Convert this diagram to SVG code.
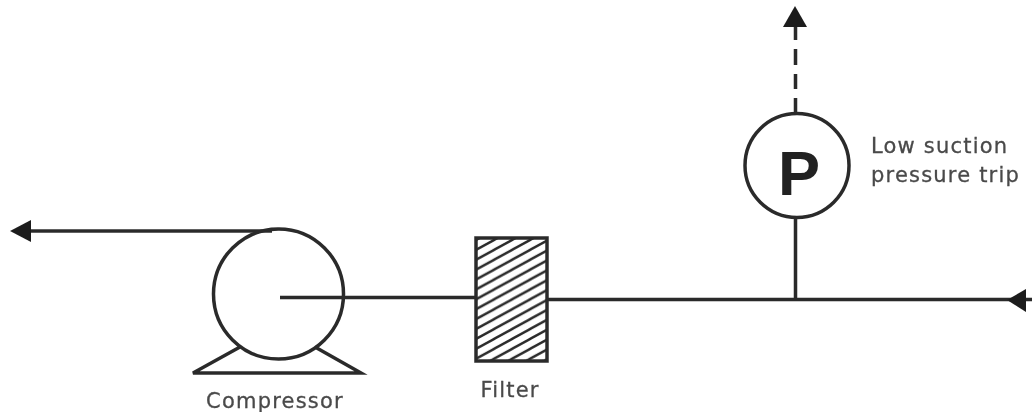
<svg xmlns="http://www.w3.org/2000/svg" width="1032" height="412" viewBox="0 0 1032 412">
<style>
.l{fill:none;stroke:#2b2b2b;stroke-width:3.5}
.a{fill:#1f1f1f;stroke:none}
text{font-family:"DejaVu Sans","Liberation Sans",sans-serif;fill:#4a4a4a}
.t{font-size:21px;letter-spacing:1.2px;stroke:#4a4a4a;stroke-width:0.3}
</style>
<defs>
<filter id="soft" x="0" y="0" width="100%" height="100%"><feGaussianBlur stdDeviation="0.7"/></filter>
<pattern id="hatch" patternUnits="userSpaceOnUse" width="18" height="9.900" patternTransform="translate(476 240)">
<path d="M-3 11.550L21 -1.650M-3 1.650L3 -1.650M15 11.550L21 8.250" stroke="#2b2b2b" stroke-width="2.400" fill="none"/>
</pattern>
</defs>
<rect width="1032" height="412" fill="#fff"/>
<g filter="url(#soft)">
<g id="connectors">
<path class="l" d="M28 231H272"/>
<path class="a" d="M10 231L31 220V242Z"/>
<path class="l" d="M280 297.500H476"/>
<path class="l" d="M547 299.500H1032"/>
<path class="a" d="M1007 300L1026 289V312Z"/>
<path class="l" d="M795.500 218V300"/>
<path class="l" d="M795.500 113V98M795.500 89V74M795.500 65V49M795.500 40V24"/>
<path class="a" d="M795 6L783 27H807Z"/>
</g>
<g id="compressor">
<path class="l" d="M240 347L193 373H361L315 347"/>
<circle class="l" cx="278.500" cy="294" r="65"/>
<text class="t" x="275" y="408" text-anchor="middle">Compressor</text>
</g>
<g id="filter">
<rect x="476" y="238" width="71" height="123" fill="url(#hatch)" stroke="#2b2b2b" stroke-width="3.500"/>
<text class="t" x="510" y="397" text-anchor="middle">Filter</text>
</g>
<g id="pressure-trip">
<circle class="l" cx="797" cy="165.500" r="52"/>
<text x="799" y="195" text-anchor="middle" style="font-family:'Liberation Sans',sans-serif;font-size:63px;font-weight:bold;fill:#222">P</text>
<text class="t" x="871" y="153">Low suction</text>
<text class="t" x="871" y="182">pressure trip</text>
</g>
</g>
</svg>
